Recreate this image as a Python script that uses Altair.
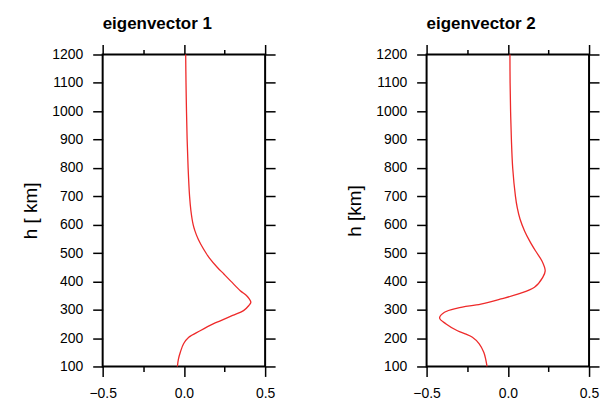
import altair as alt
import pandas as pd

# eigenvector 1: height (km) and value
h1 = [100, 125, 150, 180, 203, 226, 250, 261, 280, 297, 315, 326, 340, 350, 367, 400, 426, 450, 484, 500, 531, 550, 578, 600, 650, 700, 800, 900, 1000, 1100, 1200]
v1 = [-0.040, -0.034, -0.022, -0.002, 0.030, 0.100, 0.180, 0.224, 0.300, 0.367, 0.400, 0.412, 0.400, 0.385, 0.347, 0.290, 0.246, 0.205, 0.155, 0.136, 0.104, 0.087, 0.068, 0.057, 0.043, 0.035, 0.026, 0.020, 0.016, 0.013, 0.011]

# eigenvector 2
h2 = [100, 125, 150, 180, 203, 215, 226, 250, 271, 291, 306, 320, 338, 355, 379, 414, 437, 472, 508, 543, 578, 620, 660, 700, 800, 900, 1000, 1100, 1200]
v2 = [-0.128, -0.136, -0.148, -0.176, -0.218, -0.262, -0.310, -0.380, -0.420, -0.390, -0.310, -0.166, -0.042, 0.061, 0.164, 0.215, 0.230, 0.210, 0.170, 0.134, 0.103, 0.075, 0.058, 0.047, 0.030, 0.022, 0.017, 0.014, 0.013]

titles = ["eigenvector 1", "eigenvector 2"]
ytitles = ["h [ km]", "h [km]"]
xticks = [-0.5, -0.25, 0.0, 0.25, 0.5]
yticks = list(range(100, 1300, 100))

FONT = "Liberation Sans"
minor_test = "abs(datum.value % 0.5) > 0.01"
xsize = {"condition": {"test": minor_test, "value": 5}, "value": 10}

def panel(h, v, title, ytitle):
    df = pd.DataFrame({"h": h, "v": v})
    xs = alt.Scale(domain=[-0.5, 0.5], nice=False, zero=False)
    ys = alt.Scale(domain=[100, 1200], nice=False, zero=False)
    bottom = alt.Axis(orient="bottom", values=xticks, title=None, domain=False,
                      labelExpr=f"{minor_test} ? '' : format(datum.value, '.1f')",
                      tickSize=xsize, tickWidth=1.5, tickColor="black",
                      labelFlush=False, labelOverlap=False, labelPadding=10,
                      labelFontSize=14, labelFont=FONT, labelColor="black", grid=False)
    left = alt.Axis(orient="left", values=yticks, title=ytitle, domain=False, format="d",
                    tickSize=10, tickWidth=1.5, tickColor="black",
                    labelFlush=False, labelOverlap=False, labelPadding=10,
                    labelFontSize=14, labelFont=FONT, labelColor="black",
                    titleFont=FONT, titleFontSize=19, titleFontWeight="normal",
                    titleColor="black", titlePadding=11, grid=False)
    top = alt.Axis(orient="top", values=xticks, title=None, domain=False, labels=False,
                   tickSize=xsize, tickWidth=1.5, tickColor="black", grid=False)
    right = alt.Axis(orient="right", values=yticks, title=None, domain=False, labels=False,
                     tickSize=10, tickWidth=1.5, tickColor="black", grid=False)
    base = alt.Chart(df)
    line = base.mark_line(color="#ee2a2a", strokeWidth=1.3, interpolate="catmull-rom").encode(
        x=alt.X("v:Q", scale=xs, axis=bottom),
        y=alt.Y("h:Q", scale=ys, axis=left),
        order=alt.Order("h:Q"),
    )
    ghost = base.mark_point(opacity=0).encode(
        x=alt.X("v:Q", scale=xs, axis=top),
        y=alt.Y("h:Q", scale=ys, axis=right),
    )
    return alt.layer(line, ghost).resolve_axis(x="independent", y="independent").properties(
        width=163, height=313,
        title=alt.TitleParams(title, anchor="start", frame="group", font=FONT, fontSize=17,
                              fontWeight="bold", color="black", offset=11),
    )

chart = alt.hconcat(
    panel(h1, v1, titles[0], ytitles[0]),
    panel(h2, v2, titles[1], ytitles[1]),
    spacing=67,
).properties(
    padding={"left": 20, "top": 13, "right": 5, "bottom": 5},
    background="white",
).configure_view(stroke="black", strokeWidth=2)

chart.save("out.html", embed_options={"renderer": "svg", "actions": False})
